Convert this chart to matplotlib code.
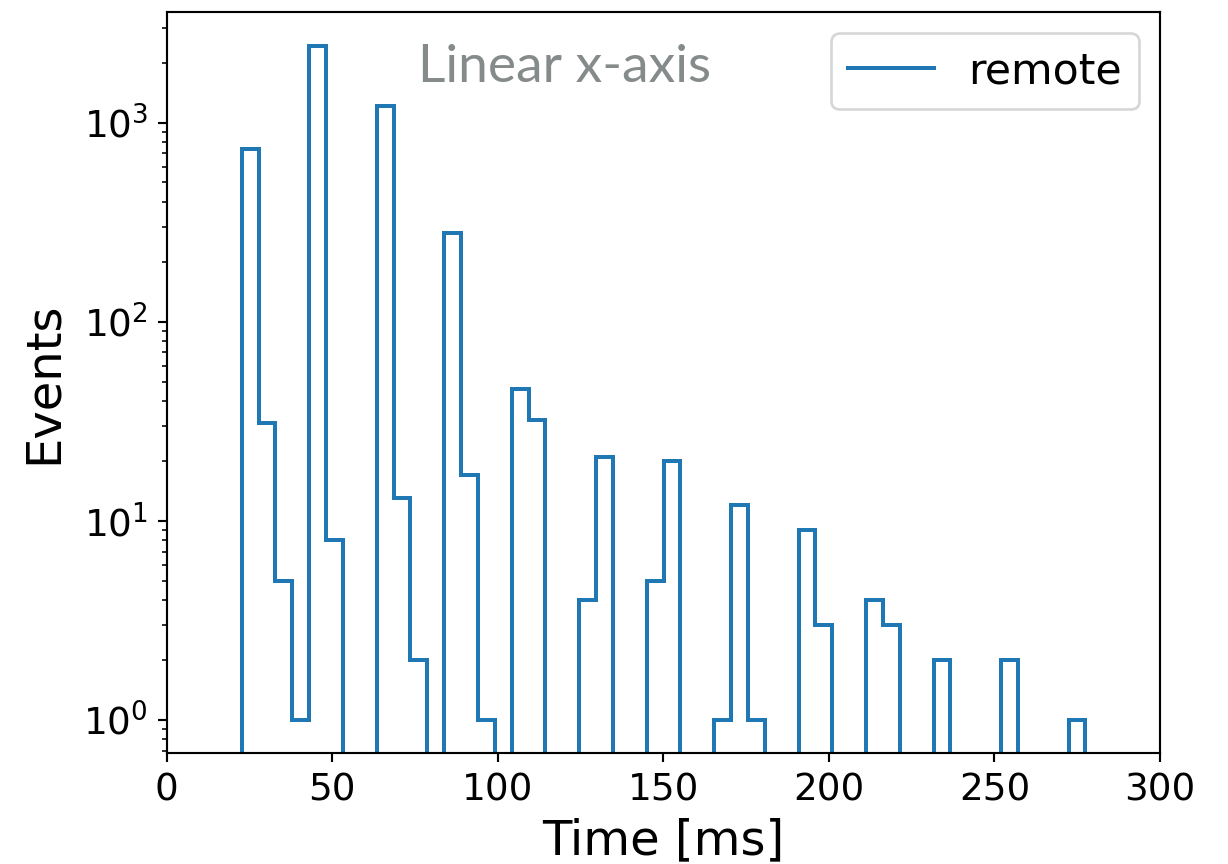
import numpy as np
import matplotlib
matplotlib.use("Agg")
import matplotlib.pyplot as plt
from matplotlib.lines import Line2D

# Histogram of response times: 50 equal bins between the first and last event
t_min = 22.67
t_max = 277.5
n_bins = 50
counts = [
    736, 31, 5, 1, 2410, 8, 0, 0, 1217, 13,
    2, 0, 278, 17, 1, 0, 46, 32, 0, 0,
    4, 21, 0, 0, 5, 20, 0, 0, 1, 12,
    1, 0, 0, 9, 3, 0, 0, 4, 3, 0,
    0, 2, 0, 0, 0, 2, 0, 0, 0, 1,
]
series_label = "remote"
x_label = "Time [ms]"
y_label = "Events"
annotation = "Linear x-axis"
x_ticks = [0, 50, 100, 150, 200, 250, 300]

edges = np.linspace(t_min, t_max, n_bins + 1)
centers = 0.5 * (edges[:-1] + edges[1:])
line_color = "#1f77b4"

fig = plt.figure(figsize=(1228 / 192, 864 / 192), dpi=192)
ax = fig.add_axes([0.1357, 0.1281, 0.8089, 0.8580])

ax.hist(centers, bins=edges, weights=counts, histtype="step",
        log=True, color=line_color, linewidth=1.5)

ax.set_xlim(0, 300)
ax.set_ylim(0.679, 3590)
ax.set_xticks(x_ticks)
ax.tick_params(axis="both", labelsize=14)
ax.set_xlabel(x_label, fontsize=18, labelpad=3)
ax.set_ylabel(y_label, fontsize=18, labelpad=6)

ax.text(0.253, 0.905, annotation, transform=ax.transAxes,
        fontsize=20, color="#858a8a", family=["Lato", "DejaVu Sans"])

handle = Line2D([], [], color=line_color, linewidth=1.5)
ax.legend([handle], [series_label], loc="upper right", fontsize=16)

fig.savefig("out.png", dpi=192)
